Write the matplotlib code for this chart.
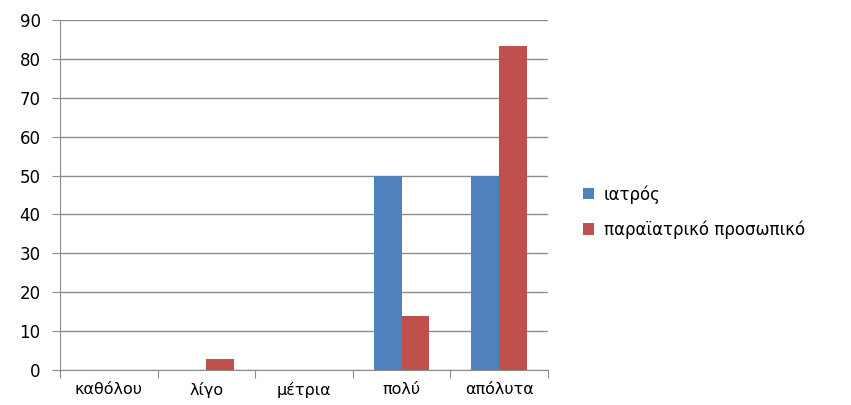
import numpy as np
import matplotlib
matplotlib.use('Agg')
import matplotlib.pyplot as plt

categories = ['καθόλου', 'λίγο', 'μέτρια', 'πολύ', 'απόλυτα']
doctors = [0, 0, 0, 50, 50]
paramedics = [0, 2.78, 0, 13.89, 83.33]
series_names = ['ιατρός', 'παραϊατρικό προσωπικό']

plt.rcParams['font.family'] = ['DejaVu Sans']
grey = '#8c8c8c'

fig = plt.figure(figsize=(8.51, 4.05), dpi=100)
ax = fig.add_axes([60 / 851, 1 - 370 / 405, 488 / 851, 350 / 405])

x = np.arange(len(categories))
w = 1 / 3.5
ax.bar(x - w / 2, doctors, w, color='#4F81BD', label=series_names[0], zorder=3)
ax.bar(x + w / 2, paramedics, w, color='#C0504D', label=series_names[1], zorder=3)

ax.set_xlim(-0.5, len(categories) - 0.5)
ax.set_ylim(0, 90)
ax.set_yticks(range(0, 91, 10))
ax.yaxis.grid(True, color=grey, linewidth=1)
ax.set_axisbelow(True)

# category labels sit between the boundary tick marks
ax.set_xticks(np.arange(-0.5, len(categories)), minor=False)
ax.set_xticklabels([])
ax.set_xticks(x, minor=True)
ax.set_xticklabels(categories, minor=True, fontsize=11.5)
ax.tick_params(axis='x', which='major', length=6, color=grey, direction='out')
ax.tick_params(axis='x', which='minor', length=0, pad=9)
ax.tick_params(axis='y', length=6, color=grey, labelsize=12, pad=8)

for side in ['top', 'right']:
    ax.spines[side].set_visible(False)
for side in ['left', 'bottom']:
    ax.spines[side].set_color(grey)

ax.legend(loc='center left', bbox_to_anchor=(568 / 851, 1 - 212 / 405),
          bbox_transform=fig.transFigure, frameon=False, fontsize=12,
          handlelength=0.65, handleheight=0.65, labelspacing=1.0, handletextpad=0.6)

fig.savefig('out.png', dpi=100)
